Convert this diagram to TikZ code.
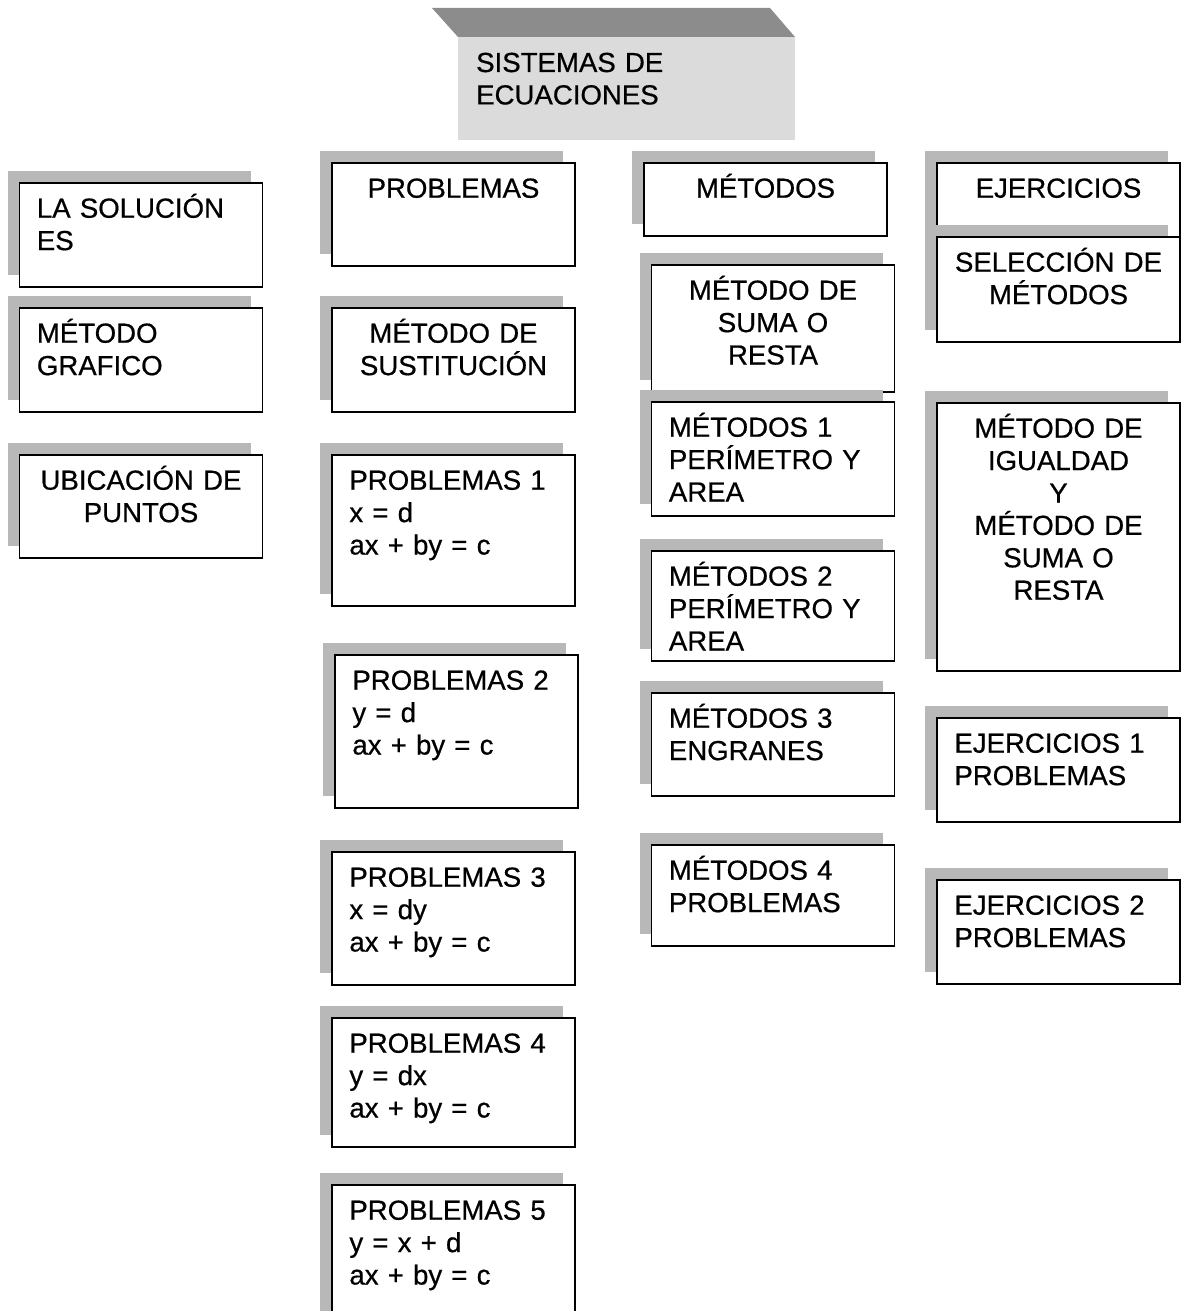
\documentclass[tikz,border=0pt]{standalone}
\usepackage{fontspec}
\setmainfont{Liberation Sans}[FakeBold=0.6]
\usepackage{tikz}
\usetikzlibrary{shadows}

\definecolor{sombra}{gray}{0.72}
\definecolor{banda}{gray}{0.55}
\definecolor{cara}{gray}{0.86}
\newcommand{\letra}{\fontsize{27.6}{32.4}\selectfont}

\tikzset{
  caja/.style={draw, line width=1.6pt, fill=white, inner sep=0pt, minimum width=243pt,
    general shadow={fill=sombra, shadow xshift=-12pt, shadow yshift=12pt}},
  izq/.style={anchor=base west, xshift=18pt, yshift=-35.5pt, text width=220pt,
    align=left, inner sep=0pt, font=\letra},
  cen/.style={anchor=base, yshift=-35.5pt, text width=243pt,
    align=center, inner sep=0pt, font=\letra}
}

\begin{document}
\begin{tikzpicture}[x=1pt,y=-1pt]
\useasboundingbox (0,0) rectangle (1186,1311);
\clip (0,0) rectangle (1186,1311);

% titulo
\fill[banda] (432,8) -- (770,8) -- (795,37) -- (458,37) -- cycle;
\fill[cara] (458,37) rectangle (795,140);
\node[font=\letra, anchor=base west, inner sep=0pt, text width=300pt, align=left] (titulo) at (476,72) {SISTEMAS DE\\ECUACIONES};

% primera columna
\node[caja, minimum height=104pt, label={[izq]north west:LA SOLUCIÓN\\ES}] (sol) at (141,235) {};
\node[caja, minimum height=104pt, label={[izq]north west:MÉTODO\\GRAFICO}] (graf) at (141,360) {};
\node[caja, minimum height=103pt, label={[cen]north:UBICACIÓN DE\\PUNTOS}] (ubic) at (141,506.5) {};

% segunda columna
\node[caja, minimum height=103pt, label={[cen]north:PROBLEMAS}] (prob) at (453.5,214.5) {};
\node[caja, minimum height=104pt, label={[cen]north:MÉTODO DE\\SUSTITUCIÓN}] (sust) at (453.5,360) {};
\node[caja, minimum height=151pt, label={[izq]north west:PROBLEMAS 1\\x = d\\ax + by = c}] (prob1) at (453.5,530.5) {};
\node[caja, minimum height=153pt, label={[izq]north west:PROBLEMAS 2\\y = d\\ax + by = c}] (prob2) at (456.5,731.5) {};
\node[caja, minimum height=133pt, label={[izq]north west:PROBLEMAS 3\\x = dy\\ax + by = c}] (prob3) at (453.5,918.5) {};
\node[caja, minimum height=129pt, label={[izq]north west:PROBLEMAS 4\\y = dx\\ax + by = c}] (prob4) at (453.5,1082.5) {};
\node[caja, minimum height=145pt, label={[izq]north west:PROBLEMAS 5\\y = x + d\\ax + by = c}] (prob5) at (453.5,1257.5) {};

% tercera columna
\node[caja, minimum height=73pt, label={[cen]north:MÉTODOS}] (met) at (765.5,199.5) {};
\node[caja, minimum height=127pt, label={[cen]north:MÉTODO DE\\SUMA O\\RESTA}] (suma) at (773,328.5) {};
\node[caja, minimum height=114pt, label={[izq]north west:MÉTODOS 1\\PERÍMETRO Y\\AREA}] (met1) at (773,459) {};
\node[caja, minimum height=110pt, label={[izq]north west:MÉTODOS 2\\PERÍMETRO Y\\AREA}] (met2) at (773,606) {};
\node[caja, minimum height=103pt, label={[izq]north west:MÉTODOS 3\\ENGRANES}] (met3) at (773,744.5) {};
\node[caja, minimum height=101pt, label={[izq]north west:MÉTODOS 4\\PROBLEMAS}] (met4) at (773,895.5) {};

% cuarta columna
\node[caja, minimum height=74pt, label={[cen]north:EJERCICIOS}] (ejer) at (1058.5,200) {};
\node[caja, minimum height=105pt, label={[cen]north:SELECCIÓN DE\\MÉTODOS}] (sel) at (1058.5,289.5) {};
\node[caja, minimum height=268pt, label={[cen]north:MÉTODO DE\\IGUALDAD\\Y\\MÉTODO DE\\SUMA O\\RESTA}] (igual) at (1058.5,537) {};
\node[caja, minimum height=104pt, label={[izq]north west:EJERCICIOS 1\\PROBLEMAS}] (ejer1) at (1058.5,770) {};
\node[caja, minimum height=104pt, label={[izq]north west:EJERCICIOS 2\\PROBLEMAS}] (ejer2) at (1058.5,932) {};

\end{tikzpicture}
\end{document}
